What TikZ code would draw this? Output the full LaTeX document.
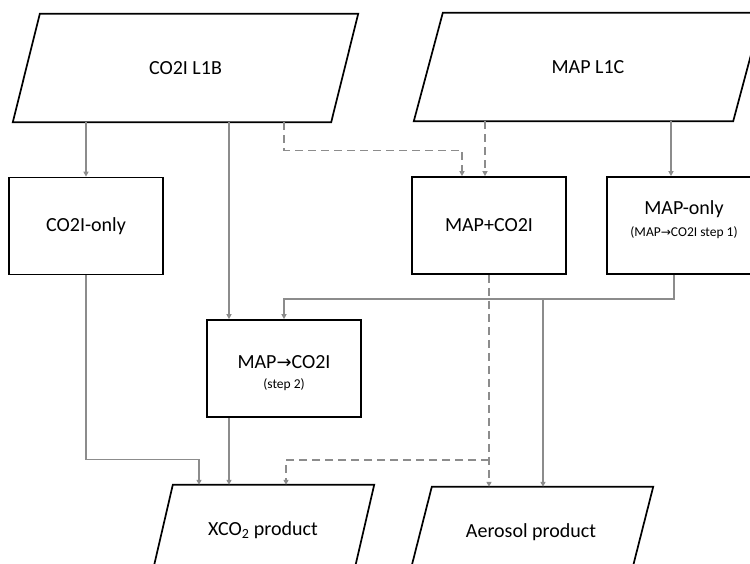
\documentclass[tikz,border=0pt]{standalone}
\usepackage{fontspec}
\setmainfont{Carlito}
\newfontfamily\arrowfont[Scale=0.9]{DejaVu Sans}
\usetikzlibrary{arrows.meta}
\newcommand{\toarrow}{{\arrowfont →}}
\newcommand{\mainsize}{\fontsize{20}{24}\selectfont}
\newcommand{\subsize}{\fontsize{13.5}{16}\selectfont}
\definecolor{linegray}{RGB}{140,140,140}
\begin{document}
\begin{tikzpicture}[x=1pt,y=-1pt,
  box/.style={draw=black,line width=1.7pt},
  proc/.style={box,rectangle,minimum width=154pt,minimum height=97pt,
    inner sep=0pt,align=center,font=\mainsize},
  data/.style={rectangle,inner sep=0pt,align=center,font=\mainsize},
  conn/.style={draw=linegray,line width=1.4pt,-{Triangle[length=5pt,width=5pt]}},
  dconn/.style={conn,dash pattern=on 8pt off 5pt}]
\useasboundingbox (0,0) rectangle (750,563);
\fill[white] (0,0) rectangle (750,563);
\clip (0,0) rectangle (750,563);

% input data (parallelograms)
\node[data,minimum width=318pt,minimum height=108pt] (l1b) at (185.5,68) {CO2I L1B};
\node[data,minimum width=319pt,minimum height=108pt] (l1c) at (588,67) {MAP L1C};
\draw[box] ([xshift=13.5]l1b.north west) -- ([xshift=13.5]l1b.north east)
  -- ([xshift=-13.5]l1b.south east) -- ([xshift=-13.5]l1b.south west) -- cycle;
\draw[box] ([xshift=14.5]l1c.north west) -- ([xshift=14.5]l1c.north east)
  -- ([xshift=-14.5]l1c.south east) -- ([xshift=-14.5]l1c.south west) -- cycle;

% retrieval configurations
\node[proc] (co2only) at (86,226) {CO2I-only};
\node[proc] (mapco2) at (489,225.5) {MAP+CO2I};
\node[proc,text depth=14pt] (maponly) at (684,225.5)
  {MAP-only\\[-2pt]{\subsize (MAP\toarrow CO2I step 1)}};
\node[proc] (step2) at (284,368.5)
  {\rule{0pt}{23pt}MAP\toarrow CO2I\\[-4pt]{\subsize (step 2)}};

% output products (parallelograms)
\node[data,minimum width=201pt,minimum height=90pt] (xco2) at (263,530) {XCO\textsubscript{2} product};
\node[data,minimum width=221pt,minimum height=90pt] (aerosol) at (531,532) {Aerosol product};
\draw[box] ([xshift=10.5]xco2.north west) -- ([xshift=10.5]xco2.north east)
  -- ([xshift=-10.5]xco2.south east) -- ([xshift=-10.5]xco2.south west) -- cycle;
\draw[box] ([xshift=11.5]aerosol.north west) -- ([xshift=11.5]aerosol.north east)
  -- ([xshift=-11.5]aerosol.south east) -- ([xshift=-11.5]aerosol.south west) -- cycle;

% junctions
\coordinate (aerosplit) at (543,298);
\coordinate (dsplit) at (489,460);

% flows
\draw[conn] (l1b.south -| co2only.north) -- (co2only.north);
\draw[conn] ([xshift=-55]l1b.south -| step2.north) -- ([xshift=-55]step2.north);
\draw[dconn] (l1b.south -| step2.north) -- ++(0,28) -| ([xshift=-27]mapco2.north);
\draw[dconn] ([xshift=-4]l1c.south -| mapco2.north) -- ([xshift=-4]mapco2.north);
\draw[conn] ([xshift=-13]l1c.south -| maponly.north) -- ([xshift=-13]maponly.north);
\draw[conn] ([xshift=-10]maponly.south) -- ++(0,24) -| (step2.north);
\draw[conn] (aerosplit) -- (aerosplit |- aerosol.north);
\draw[dconn] (mapco2.south) -- (mapco2.south |- aerosol.north);
\draw[conn] (co2only.south) -- ++(0,184) -| ([xshift=-64]xco2.north);
\draw[conn] ([xshift=-55]step2.south) -- ([xshift=-55]step2.south |- xco2.north);
\draw[dconn] (dsplit) -| ([xshift=23]xco2.north);
\end{tikzpicture}
\end{document}
